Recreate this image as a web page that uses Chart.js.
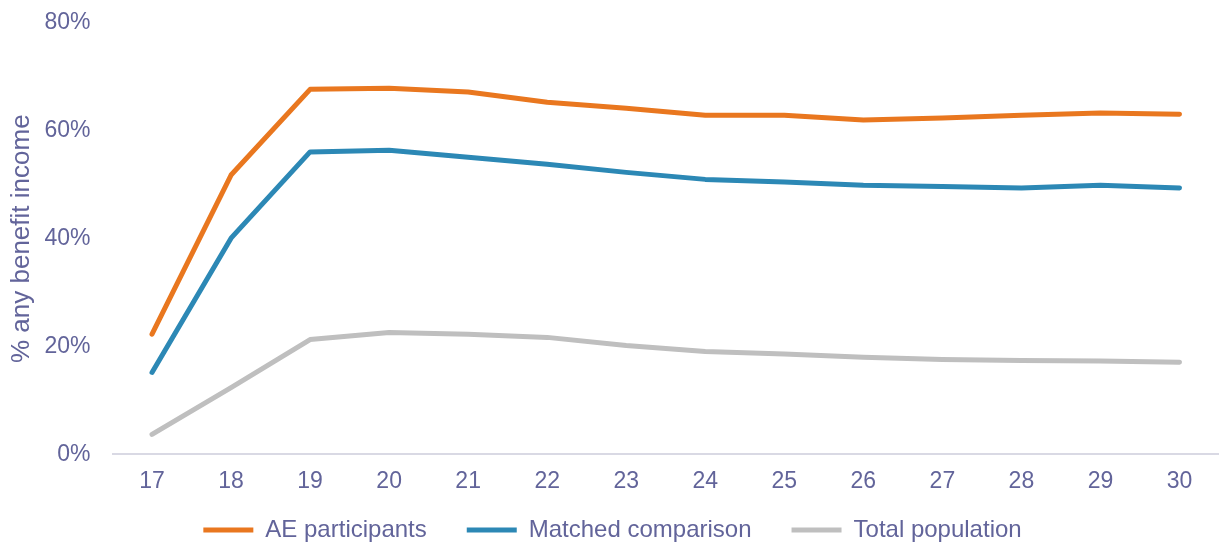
<!DOCTYPE html>
<html>
<head>
<meta charset="utf-8">
<script src="https://cdn.jsdelivr.net/npm/chart.js@4/dist/chart.umd.min.js"></script>
<style>
  html, body { margin: 0; padding: 0; background: #ffffff; }
  #wrap { width: 1219px; height: 547px; position: relative; }
</style>
</head>
<body>
<div id="wrap"><canvas id="c"></canvas></div>
<script>
const ages = ['17','18','19','20','21','22','23','24','25','26','27','28','29','30'];
const aeParticipants = [22.3, 51.8, 67.7, 67.9, 67.2, 65.3, 64.2, 62.9, 62.9, 62.0, 62.4, 62.9, 63.3, 63.1];
const matchedComparison = [15.2, 40.1, 56.1, 56.4, 55.1, 53.8, 52.3, 51.0, 50.5, 49.9, 49.7, 49.4, 49.9, 49.4];
const totalPopulation = [3.7, 12.4, 21.3, 22.6, 22.3, 21.7, 20.2, 19.1, 18.6, 18.0, 17.6, 17.4, 17.3, 17.1];
const yTicks = [0, 20, 40, 60, 80];

const textColor = '#62649a';
const fontFamily = '"Liberation Sans", Arial, sans-serif';
const PAD_LEFT = 6;
const LEGEND_PAD = 40;
const LEGEND_FONT = 24;

function ds(label, data, color) {
  return {
    label, data,
    borderColor: color, backgroundColor: color,
    borderWidth: 5, borderCapStyle: 'round', borderJoinStyle: 'round',
    pointRadius: 0, pointHoverRadius: 0, tension: 0, fill: false,
    pointStyle: 'line'
  };
}

// Keep the legend compact vertically while using wide horizontal spacing
const legendTweak = {
  id: 'legendTweak',
  afterInit(chart) {
    const lg = chart.legend;
    if (!lg || lg._tweaked) return;
    const orig = lg.fit.bind(lg);
    lg.fit = function () { orig(); this.height = 53; };
    lg._tweaked = true;
  },
  afterLayout(chart) {
    const lg = chart.legend;
    if (!lg) return;
    lg.top = 530 - LEGEND_FONT / 2 - LEGEND_PAD;
    lg.bottom = chart.height;
    lg.height = lg.bottom - lg.top;
  }
};

new Chart(document.getElementById('c'), {
  type: 'line',
  data: {
    labels: ages,
    datasets: [
      ds('AE participants', aeParticipants, '#e9771f'),
      ds('Matched comparison', matchedComparison, '#2c88b5'),
      ds('Total population', totalPopulation, '#bfbfbf')
    ]
  },
  plugins: [legendTweak],
  options: {
    responsive: true,
    maintainAspectRatio: false,
    animation: false,
    layout: { padding: { top: 23, right: 0, bottom: -14, left: PAD_LEFT } },
    plugins: {
      tooltip: { enabled: false },
      legend: {
        position: 'bottom',
        labels: {
          usePointStyle: true,
          pointStyleWidth: 50,
          color: textColor,
          font: { family: fontFamily, size: LEGEND_FONT },
          padding: LEGEND_PAD
        }
      }
    },
    scales: {
      x: {
        offset: true,
        grid: { display: false, drawTicks: false },
        border: { display: true, color: '#d9d9e4', width: 2 },
        ticks: { color: textColor, font: { family: fontFamily, size: 23 }, padding: 13, maxRotation: 0 }
      },
      y: {
        min: 0, max: 80,
        afterBuildTicks: (axis) => { axis.ticks = yTicks.map(v => ({ value: v })); },
        afterFit: (axis) => {
          axis.width = 112.5 - PAD_LEFT;
          axis.paddingTop = 0;
          axis.paddingBottom = 0;
        },
        grid: { display: false, drawTicks: false },
        border: { display: false },
        title: {
          display: true, text: '% any benefit income', color: textColor,
          font: { family: fontFamily, size: 26 }, padding: { top: 0, bottom: 4 }
        },
        ticks: {
          color: textColor, font: { family: fontFamily, size: 23 }, padding: 22,
          callback: (v) => v + '%'
        }
      }
    }
  }
});
</script>
</body>
</html>
